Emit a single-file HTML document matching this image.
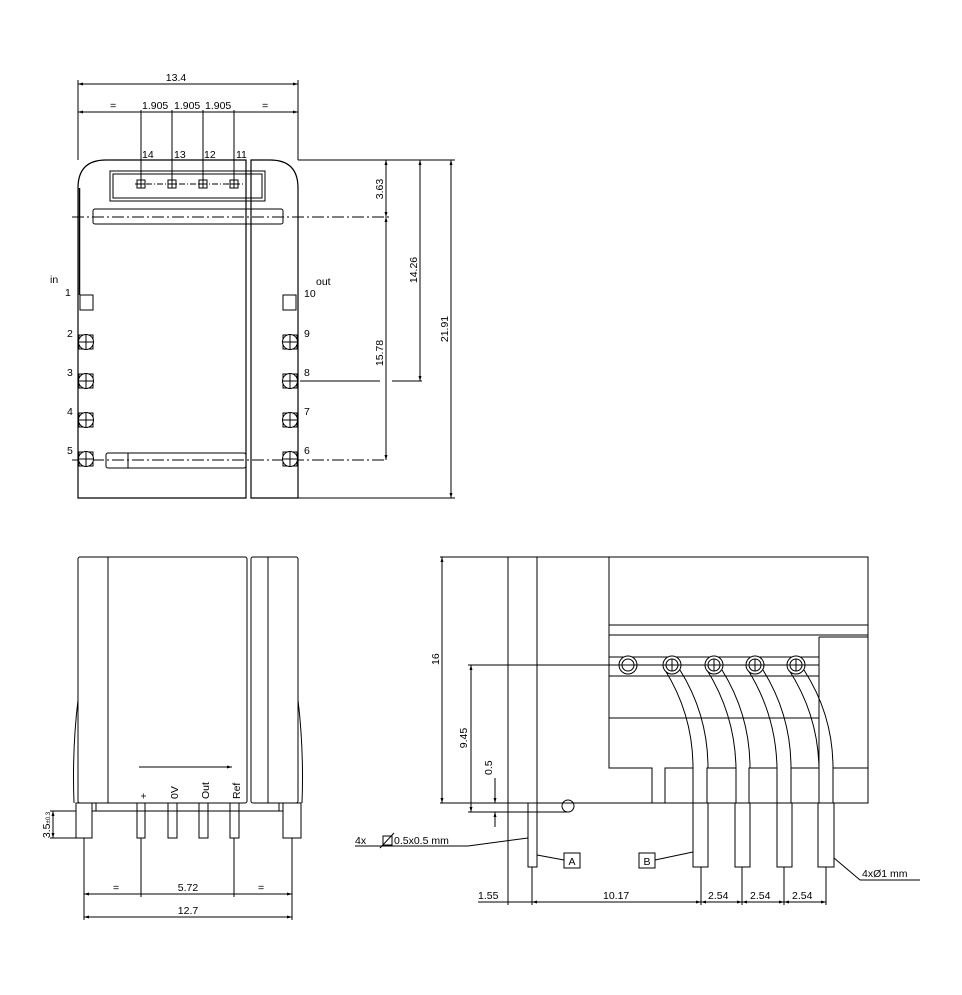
<!DOCTYPE html>
<html><head><meta charset="utf-8"><style>
html,body{margin:0;padding:0;background:#fff;}
svg{display:block;}
text{font-family:"Liberation Sans",sans-serif;font-size:10.5px;fill:#000;}
</style></head><body>
<svg width="962" height="995" viewBox="0 0 962 995" xmlns="http://www.w3.org/2000/svg">
<defs>
<marker id="a" viewBox="0 0 10 10" refX="10" refY="5" markerWidth="7" markerHeight="5" orient="auto-start-reverse"><path d="M0,2 L10,5 L0,8z" fill="#000"/></marker>
<g id="pc"><rect x="-7" y="-7" width="14" height="14" fill="none" stroke="#000"/><circle r="7.5" fill="#fff" stroke="#000"/><line x1="-7" y1="0" x2="7" y2="0" stroke="#000"/><line x1="0" y1="-7" x2="0" y2="7" stroke="#000"/></g>
<g id="sq"><rect x="-4" y="-4" width="8" height="8" fill="none" stroke="#000"/><line x1="-4" y1="0" x2="4" y2="0" stroke="#000"/><line x1="0" y1="-4" x2="0" y2="4" stroke="#000"/></g>
</defs>
<g fill="none" stroke="#000" stroke-width="1">
<!-- TOP VIEW -->
<line x1="78" y1="80" x2="78" y2="160"/><line x1="298" y1="80" x2="298" y2="160"/>
<line x1="78" y1="84" x2="298" y2="84" marker-start="url(#a)" marker-end="url(#a)"/>
<line x1="78" y1="112" x2="298" y2="112" marker-start="url(#a)" marker-end="url(#a)"/>
<line x1="141" y1="110" x2="141" y2="184"/><line x1="172" y1="110" x2="172" y2="184"/><line x1="203" y1="110" x2="203" y2="184"/><line x1="234" y1="110" x2="234" y2="184"/>
<path d="M78,498 V188 Q78,160 106,160 H246 V498 Z" stroke-width="1.2"/>
<line x1="79.5" y1="188" x2="79.5" y2="295" stroke-width="1.5"/>
<path d="M251,498 V160 H270 Q298,160 298,188 V498 Z" stroke-width="1.2"/>
<rect x="110" y="171" width="155" height="30"/><rect x="113" y="174" width="149" height="24"/>
<line x1="135" y1="184" x2="245" y2="184" stroke-dasharray="6,2,1,2"/>
<rect x="93" y="209" width="190" height="15" rx="2"/>
<line x1="72" y1="217" x2="390" y2="217" stroke-dasharray="12,3,2,3"/>
<rect x="106" y="453" width="140" height="15" rx="2"/><line x1="128" y1="453" x2="128" y2="468"/>
<line x1="72" y1="460" x2="386" y2="460" stroke-dasharray="12,3,2,3"/>
<rect x="80" y="295" width="13" height="15"/><rect x="283" y="295" width="13" height="15"/>
<line x1="298" y1="160" x2="455" y2="160"/><line x1="298" y1="498" x2="455" y2="498"/>
<line x1="300" y1="381" x2="380" y2="381"/><line x1="392" y1="381" x2="422" y2="381"/>
<line x1="386" y1="160" x2="386" y2="217" marker-start="url(#a)" marker-end="url(#a)"/>
<line x1="386" y1="217" x2="386" y2="460" marker-start="url(#a)" marker-end="url(#a)"/>
<line x1="420" y1="160" x2="420" y2="381" marker-start="url(#a)" marker-end="url(#a)"/>
<line x1="451" y1="160" x2="451" y2="498" marker-start="url(#a)" marker-end="url(#a)"/>

<!-- FRONT VIEW -->
<rect x="78" y="557" width="169" height="246" rx="2"/><line x1="108" y1="557" x2="108" y2="803"/>
<rect x="251" y="557" width="47" height="246" rx="2"/><line x1="268" y1="557" x2="268" y2="803"/>
<path d="M78,700 Q72,750 74,803"/><path d="M298,700 Q304,750 302,803"/>
<line x1="139" y1="767" x2="232" y2="767" marker-end="url(#a)"/>
<rect x="76" y="803" width="16" height="35"/><rect x="92" y="803" width="4" height="8"/>
<rect x="137" y="803" width="8" height="35"/><rect x="168" y="803" width="9" height="35"/>
<rect x="199" y="803" width="9" height="35"/><rect x="230" y="803" width="9" height="35"/>
<rect x="283" y="803" width="18" height="35"/><rect x="279" y="803" width="4" height="8"/>
<line x1="96" y1="811" x2="279" y2="811"/>
<line x1="50" y1="811" x2="76" y2="811"/><line x1="50" y1="838" x2="76" y2="838"/>
<line x1="53" y1="811" x2="53" y2="838" marker-start="url(#a)" marker-end="url(#a)"/>
<line x1="84" y1="838" x2="84" y2="920"/><line x1="292" y1="838" x2="292" y2="920"/>
<line x1="141" y1="838" x2="141" y2="897"/><line x1="234" y1="838" x2="234" y2="897"/>
<line x1="84" y1="894" x2="292" y2="894" marker-start="url(#a)" marker-end="url(#a)"/>
<line x1="84" y1="917" x2="292" y2="917" marker-start="url(#a)" marker-end="url(#a)"/>

<!-- SIDE VIEW -->
<rect x="508" y="557" width="360" height="246"/>
<path d="M609,557 V768 H652 V803"/>
<line x1="537" y1="557" x2="537" y2="803"/>
<line x1="609" y1="625" x2="868" y2="625"/><line x1="609" y1="635" x2="868" y2="635"/>
<line x1="819" y1="637" x2="819" y2="768"/><line x1="819" y1="637" x2="868" y2="637"/>
<line x1="609" y1="657" x2="819" y2="657"/><line x1="609" y1="676" x2="819" y2="676"/>
<line x1="609" y1="718" x2="819" y2="718"/>
<rect x="665" y="768" width="28" height="35"/><rect x="707" y="768" width="29" height="35"/>
<rect x="749" y="768" width="28" height="35"/><rect x="791" y="768" width="28" height="35"/>
<rect x="833" y="768" width="35" height="35"/>
<path d="M665,670 Q693,715 693,768 M680,670 Q708,715 708,768"/>
<path d="M707,670 Q735,715 736,768 M722,670 Q750,715 750,768"/>
<path d="M748,670 Q776,715 777,768 M763,670 Q791,715 791,768"/>
<path d="M789,670 Q818,715 819,768 M804,670 Q833,715 833,768"/>
<rect x="693" y="803" width="15" height="64"/><rect x="735" y="803" width="15" height="64"/>
<rect x="777" y="803" width="15" height="64"/><rect x="818" y="803" width="16" height="64"/>
<rect x="528" y="803" width="9" height="64"/>
<circle cx="568" cy="806" r="6"/>
<line x1="440" y1="557" x2="508" y2="557"/><line x1="440" y1="803" x2="508" y2="803"/>
<line x1="442" y1="557" x2="442" y2="803" marker-start="url(#a)" marker-end="url(#a)"/>
<line x1="468" y1="665" x2="628" y2="665"/><line x1="468" y1="812" x2="567" y2="812"/>
<line x1="471" y1="665" x2="471" y2="812" marker-start="url(#a)" marker-end="url(#a)"/>
<line x1="495" y1="778" x2="495" y2="803" marker-end="url(#a)"/><line x1="495" y1="827" x2="495" y2="812" marker-end="url(#a)"/>
<line x1="355" y1="846" x2="468" y2="846"/><line x1="468" y1="846" x2="528" y2="838"/>
<rect x="383" y="836" width="9" height="9"/><line x1="380" y1="848" x2="394" y2="833"/>
<rect x="564" y="853" width="16" height="15"/><line x1="537" y1="855" x2="564" y2="860"/>
<rect x="639" y="853" width="16" height="15"/><line x1="655" y1="860" x2="693" y2="852"/>
<line x1="834" y1="858" x2="860" y2="880"/><line x1="860" y1="880" x2="920" y2="880"/>
<line x1="508" y1="803" x2="508" y2="905"/><line x1="532" y1="867" x2="532" y2="905"/>
<line x1="701" y1="867" x2="701" y2="905"/><line x1="742" y1="867" x2="742" y2="905"/>
<line x1="784" y1="867" x2="784" y2="905"/><line x1="826" y1="867" x2="826" y2="905"/>
<line x1="478" y1="902" x2="532" y2="902"/>
<line x1="532" y1="902" x2="701" y2="902" marker-start="url(#a)" marker-end="url(#a)"/>
<line x1="701" y1="902" x2="742" y2="902" marker-start="url(#a)" marker-end="url(#a)"/>
<line x1="742" y1="902" x2="784" y2="902" marker-start="url(#a)" marker-end="url(#a)"/>
<line x1="784" y1="902" x2="826" y2="902" marker-start="url(#a)" marker-end="url(#a)"/>
</g>
<use href="#sq" x="141" y="184"/><use href="#sq" x="172" y="184"/><use href="#sq" x="203" y="184"/><use href="#sq" x="234" y="184"/>
<use href="#pc" x="86" y="342"/><use href="#pc" x="86" y="381"/><use href="#pc" x="86" y="420"/><use href="#pc" x="86" y="459"/>
<use href="#pc" x="290" y="342"/><use href="#pc" x="290" y="381"/><use href="#pc" x="290" y="420"/><use href="#pc" x="290" y="459"/>
<g fill="#fff" stroke="#000">
<circle cx="628" cy="665" r="9"/><circle cx="672" cy="665" r="9"/><circle cx="714" cy="665" r="9"/><circle cx="755" cy="665" r="9"/><circle cx="796" cy="665" r="9"/>
</g>
<g stroke="#000">
<circle cx="628" cy="665" r="6" fill="none"/><circle cx="672" cy="665" r="6" fill="none"/><circle cx="714" cy="665" r="6" fill="none"/><circle cx="755" cy="665" r="6" fill="none"/><circle cx="796" cy="665" r="6" fill="none"/>
<line x1="609" y1="665" x2="819" y2="665"/>
<line x1="672" y1="659" x2="672" y2="671"/><line x1="714" y1="659" x2="714" y2="671"/><line x1="755" y1="659" x2="755" y2="671"/><line x1="796" y1="659" x2="796" y2="671"/>
</g>
<text x="176" y="81" text-anchor="middle">13.4</text>
<text x="110" y="109">=</text><text x="262" y="109">=</text>
<text x="142" y="109" font-size="9.5">1.905</text><text x="174" y="109" font-size="9.5">1.905</text><text x="205" y="109" font-size="9.5">1.905</text>
<text x="142" y="158">14</text><text x="174" y="158">13</text><text x="204" y="158">12</text><text x="236" y="158">11</text>
<text x="50" y="283" font-size="13">in</text><text x="316" y="285" font-size="13">out</text>
<text x="65" y="296">1</text><text x="67" y="337">2</text><text x="67" y="376">3</text><text x="67" y="415">4</text><text x="67" y="454">5</text>
<text x="304" y="297">10</text><text x="304" y="337">9</text><text x="304" y="376">8</text><text x="304" y="415">7</text><text x="304" y="454">6</text>
<text transform="translate(383,189) rotate(-90)" text-anchor="middle">3.63</text>
<text transform="translate(417,270) rotate(-90)" text-anchor="middle">14.26</text>
<text transform="translate(383,353) rotate(-90)" text-anchor="middle">15.78</text>
<text transform="translate(448,329) rotate(-90)" text-anchor="middle">21.91</text>
<g font-size="13">
<text transform="translate(147,799) rotate(-90)">+</text>
<text transform="translate(178,799) rotate(-90)">0V</text>
<text transform="translate(209,799) rotate(-90)">Out</text>
<text transform="translate(240,799) rotate(-90)">Ref</text>
</g>
<text transform="translate(50,825) rotate(-90)" text-anchor="middle">3.5<tspan font-size="6">±0.3</tspan></text>
<text x="113" y="891">=</text><text x="258" y="891">=</text>
<text x="188" y="891" text-anchor="middle">5.72</text><text x="188" y="914" text-anchor="middle">12.7</text>
<text transform="translate(439,665) rotate(-90)">16</text>
<text transform="translate(467,738) rotate(-90)" text-anchor="middle">9.45</text>
<text transform="translate(492,775) rotate(-90)">0.5</text>
<text x="355" y="844" font-size="9.5">4x</text><text x="394" y="844" font-size="9.5">0.5x0.5 mm</text>
<text x="572" y="865" text-anchor="middle">A</text><text x="647" y="865" text-anchor="middle">B</text>
<text x="862" y="877" font-size="9.5">4xØ1 mm</text>
<text x="478" y="899">1.55</text><text x="603" y="899">10.17</text>
<text x="708" y="899">2.54</text><text x="750" y="899">2.54</text><text x="792" y="899">2.54</text>
</svg>
</body></html>
